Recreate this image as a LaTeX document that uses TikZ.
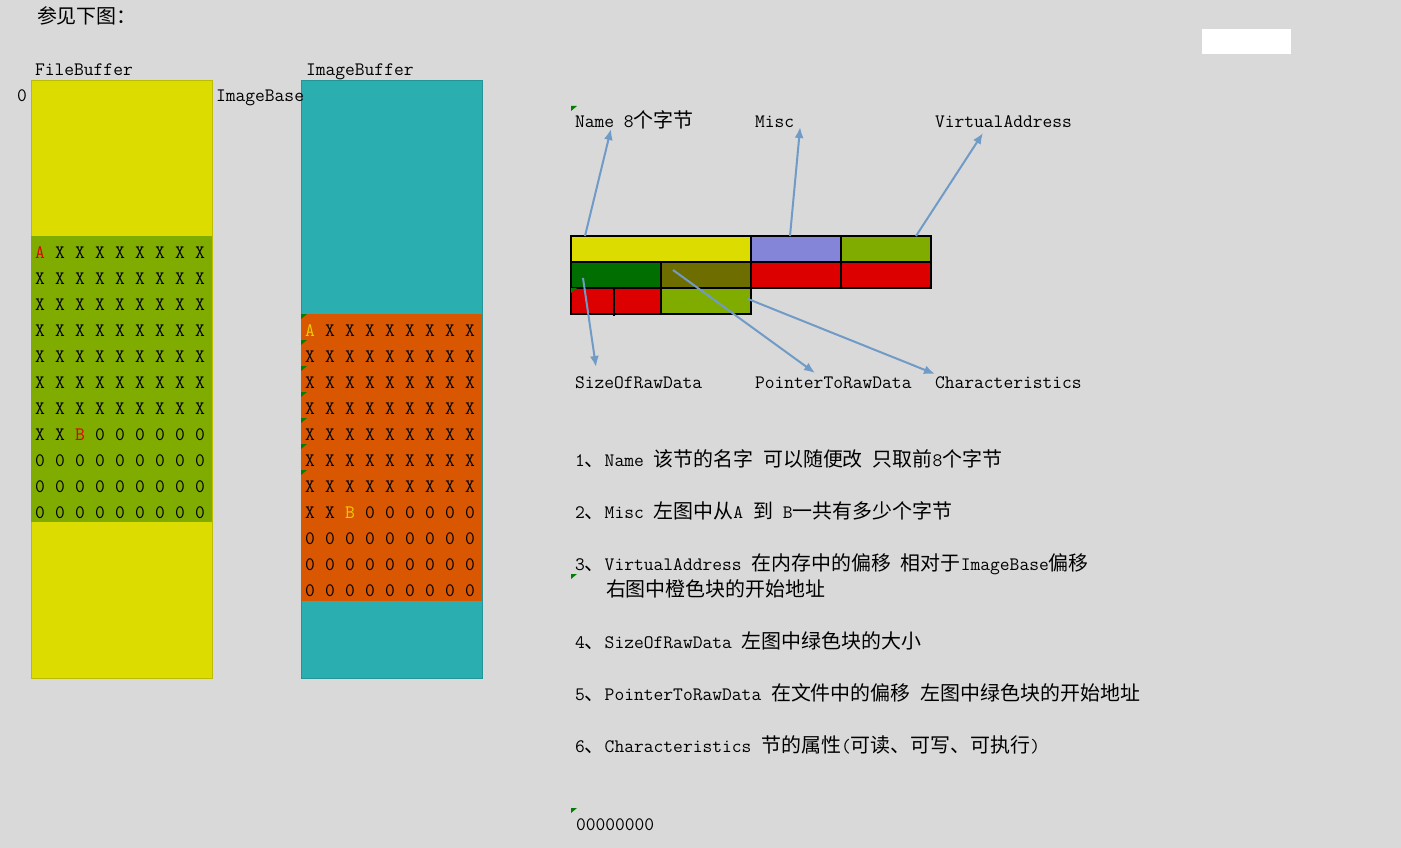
\documentclass[tikz,border=0pt]{standalone}
\usepackage{fontspec}
\usepackage{xcolor}
\usepackage{tikz}
\usetikzlibrary{calc, arrows.meta}

\newfontfamily\cjk[Scale=1.05]{Noto Sans CJK SC}
\newcommand{\zh}[1]{{\cjk #1}}

\definecolor{sheetGray}{RGB}{217,217,217}
\definecolor{fileYellow}{RGB}{220,220,0}
\definecolor{rawGreen}{RGB}{128,172,0}
\definecolor{imgTeal}{RGB}{42,174,176}
\definecolor{secOrange}{RGB}{217,87,0}
\definecolor{miscPurple}{RGB}{132,132,216}
\definecolor{sizeGreen}{RGB}{0,110,0}
\definecolor{ptrOlive}{RGB}{110,110,0}
\definecolor{cellRed}{RGB}{220,0,0}
\definecolor{arrowBlue}{RGB}{113,155,199}
\definecolor{markGreen}{RGB}{0,128,0}
\definecolor{letterRed}{RGB}{220,0,0}
\definecolor{letterGold}{RGB}{240,205,0}

\begin{document}
\begin{tikzpicture}[x=1pt, y=-1pt,
    font=\fontsize{19}{22}\selectfont\ttfamily,
    every node/.style={inner sep=0pt, outer sep=0pt},
    txt/.style={anchor=base west},
    gridch/.style={anchor=base},
    cell/.style={draw=black, line width=1.3pt, anchor=north west,
                 minimum width=90pt, minimum height=26pt},
    arr/.style={arrowBlue, line width=2pt, -{Latex[length=11pt,width=9pt]}}]
    % Sheet (pixel grid, y runs down)
    \fill[sheetGray] (0,0) rectangle (1401,848);
    \useasboundingbox (0,0) rectangle (1401,848);
    \fill[white] (1202,29) rectangle (1291,54);

    \node[txt] (intro) at (37,24) {\zh{参见下图：}};

    % Two buffers
    \filldraw[fill=fileYellow, draw=fileYellow!85!black, line width=0.8pt] (31,80) rectangle (212,678);
    \fill[rawGreen] (31,236) rectangle (211.6,522);
    \filldraw[fill=imgTeal, draw=imgTeal!85!black, line width=0.8pt] (301,80) rectangle (482,678);
    \fill[secOrange] (301,314) rectangle (481.6,601);

    \node[txt] (fbTitle) at (35,76) {FileBuffer};
    \node[txt] (ibTitle) at (306,76) {ImageBuffer};
    \node[txt] (zeroOff) at (17,102) {0};
    \node[txt] (imgBase) at (216,102) {ImageBase};

    % Section bytes: A ... B, then zero padding
    \foreach \blk/\bx/\by/\hl in {fb/40/258/letterRed, ib/310/336/letterGold}
      \foreach \r in {0,...,10}
        \foreach \c in {0,...,8} {
          \pgfmathtruncatemacro{\i}{9*\r+\c}
          \ifnum\i=0 \def\ch{\textcolor{\hl}{A}}\else
            \ifnum\i=65 \def\ch{\textcolor{\hl}{B}}\else
              \ifnum\i<65 \def\ch{X}\else \def\ch{0}\fi\fi\fi
          \node[gridch] (\blk-\r-\c) at (\bx+20*\c, \by+26*\r) {\ch};
        }

    % Comment markers
    \foreach \y in {314,340,...,470}
      \fill[markGreen] (301,\y) -- ++(6,0) -- ++(-6,5) -- cycle;
    \foreach \y in {106,574,808}
      \fill[markGreen] (571,\y) -- ++(6,0) -- ++(-6,5) -- cycle;

    % Section header table
    \node[cell, fill=fileYellow, minimum width=180pt] (nameCell) at (571,236) {};
    \node[cell, fill=miscPurple] (miscCell) at (751,236) {};
    \node[cell, fill=rawGreen] (vaCell) at (841,236) {};
    \node[cell, fill=sizeGreen] (sizeCell) at (571,262) {};
    \node[cell, fill=ptrOlive] (ptrCell) at (661,262) {};
    \node[cell, fill=cellRed] (redA) at (751,262) {};
    \node[cell, fill=cellRed] (redB) at (841,262) {};
    \node[cell, fill=cellRed, minimum width=43pt] (redC) at (571,288) {};
    \node[cell, fill=cellRed, minimum width=47pt] (redD) at (614,288) {};
    \node[cell, fill=rawGreen] (charCell) at (661,288) {};
    \draw[line width=2pt] (redD.north west) -- ([yshift=-2pt]redD.south west);
    \fill[markGreen] (571,288) -- ++(6,0) -- ++(-6,5) -- cycle;

    % Field names
    \node[txt] (nameLbl) at (575,128) {Name 8\zh{个字节}};
    \node[txt] (miscLbl) at (755,128) {Misc};
    \node[txt] (vaLbl) at (935,128) {VirtualAddress};
    \node[txt] (sizeLbl) at (575,388) {SizeOfRawData};
    \node[txt] (ptrLbl) at (755,388) {PointerToRawData};
    \node[txt] (charLbl) at (935,388) {Characteristics};

    \draw[arr] ($(nameCell.north west)+(14,0)$) -- ($(nameLbl.base west)+(36,1)$);
    \draw[arr] ($(miscCell.north west)+(39,0)$) -- ($(miscLbl.base east)+(6,-1)$);
    \draw[arr] ($(vaCell.north west)+(75,0)$) -- ($(vaLbl.base west)+(48,5)$);
    \draw[arr] ($(sizeCell.north west)+(12,16)$) -- ($(sizeLbl.base west)+(21,-21)$);
    \draw[arr] ($(ptrCell.north west)+(12,8)$) -- ($(ptrLbl.base west)+(60,-15)$);
    \draw[arr] ($(charCell.north west)+(87,11)$) -- ($(charLbl.base west)+(0,-14)$);

    % Notes
    \node[txt] (note1) at (575,466) {1\zh{、}Name \zh{该节的名字} \zh{可以随便改} \zh{只取前}8\zh{个字节}};
    \node[txt] (note2) at (575,518) {2\zh{、}Misc \zh{左图中从}A \zh{到} B\zh{一共有多少个字节}};
    \node[txt] (note3) at (575,570) {3\zh{、}VirtualAddress \zh{在内存中的偏移} \zh{相对于}ImageBase\zh{偏移}};
    \node[txt] (note3b) at (606,596) {\zh{右图中橙色块的开始地址}};
    \node[txt] (note4) at (575,648) {4\zh{、}SizeOfRawData \zh{左图中绿色块的大小}};
    \node[txt] (note5) at (575,700) {5\zh{、}PointerToRawData \zh{在文件中的偏移} \zh{左图中绿色块的开始地址}};
    \node[txt] (note6) at (575,752) {6\zh{、}Characteristics \zh{节的属性}(\zh{可读、可写、可执行})};
    \node[txt] (zeros) at (576,830) {00000000};
\end{tikzpicture}
\end{document}
